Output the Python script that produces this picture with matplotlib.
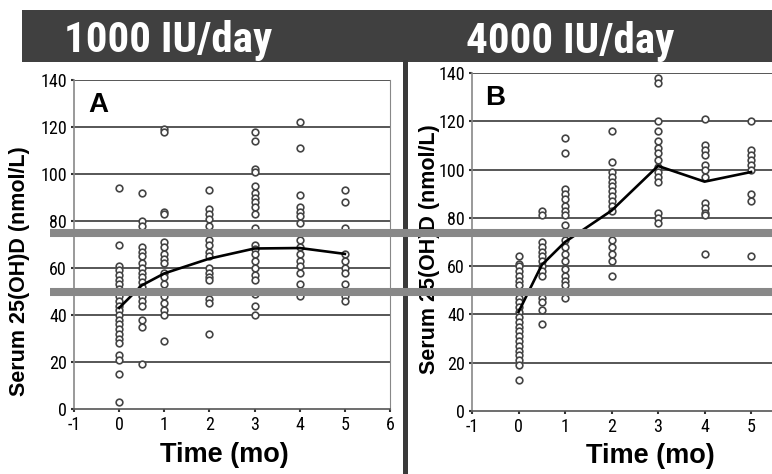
import numpy as np
import matplotlib
matplotlib.use("Agg")
import matplotlib.pyplot as plt
from matplotlib import font_manager
from matplotlib.lines import Line2D
from matplotlib.patches import Rectangle
from matplotlib.transforms import blended_transform_factory

# time points (months)
times = [0, 0.5, 1, 2, 3, 4, 5]

# panel A: 1000 IU/day, individual serum 25(OH)D values (nmol/L)
a_t0 = [94, 70, 61, 59, 57, 55, 53, 51, 48, 46, 44, 42, 40, 38, 36, 34, 32, 30, 28, 23, 21, 15, 3]
a_t05 = [92, 80, 78, 69, 67, 65, 62, 60, 58, 56, 54, 52, 50, 48, 46, 44, 38, 35, 19]
a_t1 = [119, 118, 84, 83, 71, 69, 66, 64, 62, 58, 56, 53, 50, 48, 45, 42, 40, 29]
a_t2 = [93, 85, 83, 81, 78, 72, 70, 67, 65, 60, 58, 56, 55, 47, 45, 32]
a_t3 = [118, 114, 102, 101, 95, 92, 90, 88, 86, 83, 77, 70, 68, 66, 63, 60, 57, 55, 49, 44, 40]
a_t4 = [122, 111, 91, 86, 84, 82, 79, 72, 69, 66, 63, 61, 58, 53, 48]
a_t5 = [93, 88, 77, 66, 63, 60, 58, 53, 48, 46]
a_mean = [43, 52.6, 57.7, 64, 68.3, 68.5, 66]

# panel B: 4000 IU/day
b_t0 = [64, 61, 60, 58, 56, 54, 52, 47, 45, 43, 41, 39, 37, 35, 33, 31, 29, 27, 25, 23, 21, 19, 13]
b_t05 = [83, 81, 70, 68, 66, 64, 62, 60, 58, 56, 47, 45, 42, 36]
b_t1 = [113, 107, 92, 90, 88, 85, 83, 81, 77, 74, 71, 68, 65, 62, 59, 56, 54, 52, 49, 47]
b_t2 = [116, 103, 99, 97, 95, 93, 91, 89, 87, 85, 83, 71, 68, 65, 62, 56]
b_t3 = [138, 136, 120, 116, 112, 109, 107, 104, 101, 99, 97, 95, 82, 80, 78]
b_t4 = [121, 110, 108, 106, 102, 100, 97, 86, 84, 82, 81, 65]
b_t5 = [120, 108, 106, 104, 102, 100, 90, 87, 64]
b_mean = [41, 60.5, 70, 83, 101.5, 95, 99]

a_values = [a_t0, a_t05, a_t1, a_t2, a_t3, a_t4, a_t5]
b_values = [b_t0, b_t05, b_t1, b_t2, b_t3, b_t4, b_t5]

titles = ["1000 IU/day", "4000 IU/day"]
panel_letters = ["A", "B"]
ref_levels = [75, 50]

plt.rcParams["axes.unicode_minus"] = False

# pick a condensed face if one is installed, otherwise plain Liberation Sans
installed = {f.name for f in font_manager.fontManager.ttflist}
narrow_name = next((n for n in ["Liberation Sans Narrow", "Arial Narrow",
                                "Roboto Condensed", "Open Sans Condensed"]
                    if n in installed), None)
if narrow_name:
    narrow = [narrow_name, "DejaVu Sans"]
    title_size, tick_size = 31, 13
else:
    narrow = ["Liberation Sans", "DejaVu Sans"]
    title_size, tick_size = 26.5, 11
bold_sans = ["Liberation Sans", "DejaVu Sans"]

W, H = 772, 474
fig = plt.figure(figsize=(W / 100, H / 100), dpi=100)
fig.patch.set_facecolor("white")

axA = fig.add_axes([74 / W, 65 / H, 316 / W, 329 / H])
axB = fig.add_axes([472 / W, 63 / H, 300 / W, 338 / H])


def draw_panel(ax, values, mean, xmax, letter, right_spine):
    ax.set_xlim(-1, xmax)
    ax.set_ylim(0, 140)
    ax.set_yticks(range(0, 141, 20))
    ax.set_xticks(range(-1, int(np.floor(xmax)) + 1))
    for y in range(20, 141, 20):
        ax.axhline(y, color="#3a3a3a", lw=1.2, zorder=1)
    for t, vals in zip(times, values):
        ax.plot(np.full(len(vals), t), vals, "o", mfc="white", mec="#444444",
                ms=4.8, mew=1.2, zorder=3, clip_on=False)
    ax.plot(times, mean, color="black", lw=1.9, zorder=4)
    for side in ["top", "right"]:
        ax.spines[side].set_visible(False)
    ax.spines["left"].set_color("#888888")
    ax.spines["bottom"].set_color("#555555")
    ax.spines["left"].set_linewidth(1.2)
    ax.spines["bottom"].set_linewidth(1.2)
    if right_spine:
        ax.spines["right"].set_visible(True)
        ax.spines["right"].set_color("#888888")
    ax.tick_params(direction="out", length=2, width=1.5, color="#333333", pad=3)
    for lab in ax.get_xticklabels() + ax.get_yticklabels():
        lab.set_family(narrow)
        lab.set_fontsize(tick_size)
    ax.set_ylabel("Serum 25(OH)D (nmol/L)", fontsize=15.5, fontweight="bold",
                  family=bold_sans)
    ax.set_xlabel("Time (mo)", fontsize=19.5, fontweight="bold", family=bold_sans)
    ax.text(0.076, 0.925, letter, transform=ax.transAxes, ha="center", va="center",
            fontsize=20, fontweight="bold", family=bold_sans)


draw_panel(axA, a_values, a_mean, 6, panel_letters[0], True)
draw_panel(axB, b_values, b_mean, 5.45, panel_letters[1], False)

axA.yaxis.set_label_coords(-0.14, 0.42)
axB.yaxis.set_label_coords(-0.105, 0.48)
axA.xaxis.set_label_coords(0.475, -0.1)
axB.xaxis.set_label_coords(0.593, -0.095)

# title banner
fig.add_artist(Rectangle((22 / W, 412 / H), 750 / W, 52 / H, transform=fig.transFigure,
                         facecolor="#404040", edgecolor="none", zorder=0.5))
fig.text(168 / W, (H - 52) / H, titles[0], color="white", fontsize=title_size,
         fontweight="bold", family=narrow, ha="center", va="baseline")
fig.text(570 / W, (H - 53) / H, titles[1], color="white", fontsize=title_size,
         fontweight="bold", family=narrow, ha="center", va="baseline")

# vertical separator
fig.add_artist(Line2D([405 / W, 405 / W], [0, 412 / H], transform=fig.transFigure,
                      color="#3a3a3a", lw=3.6, zorder=5))

# reference bands at 75 and 50 nmol/L spanning both panels
trans = blended_transform_factory(fig.transFigure, axA.transData)
for lvl in ref_levels:
    fig.add_artist(Line2D([50 / W, 1], [lvl, lvl], transform=trans,
                          color="#888888", lw=5.8, zorder=6, solid_capstyle="butt"))

fig.savefig("out.png", dpi=100)
